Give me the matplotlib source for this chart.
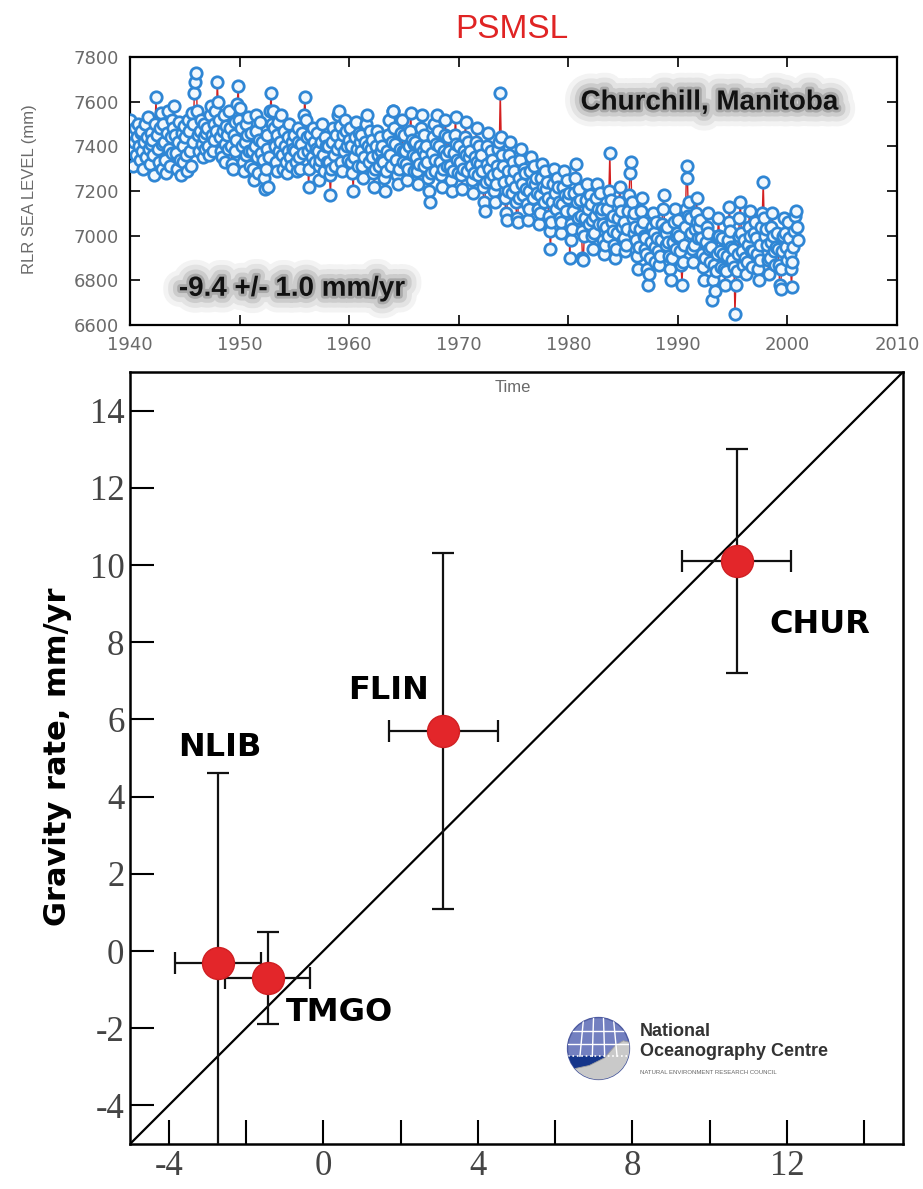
import numpy as np
import matplotlib
matplotlib.use('Agg')
from matplotlib import pyplot as plt
from matplotlib import patheffects as pe
from matplotlib.ticker import MultipleLocator
from matplotlib.patches import Circle, Rectangle, Polygon

plt.rcParams['axes.unicode_minus'] = False

# %% Churchill monthly RLR sea level (mm), one row per year
year_start = 1940
sl_1940s = [7520, 7450, 7380, 7310, 7420, 7480, 7360, 7440, 7500, 7400, 7340, 7460,
            7470, 7380, 7300, 7420, 7500, 7350, 7440, 7530, 7390, 7320, 7460, 7410,
            7430, 7360, 7270, 7500, 7620, 7450, 7390, 7330, 7480, 7550, 7410, 7300,
            7500, 7420, 7340, 7280, 7460, 7560, 7390, 7310, 7440, 7520, 7370, 7480,
            7580, 7450, 7370, 7300, 7420, 7510, 7340, 7270, 7460, 7400, 7330, 7490,
            7440, 7360, 7290, 7520, 7470, 7380, 7310, 7550, 7420, 7500, 7640, 7690,
            7730, 7560, 7450, 7380, 7470, 7520, 7410, 7350, 7440, 7500, 7390, 7460,
            7480, 7400, 7360, 7540, 7580, 7450, 7380, 7500, 7430, 7560, 7470, 7690,
            7600, 7520, 7440, 7380, 7350, 7470, 7540, 7410, 7330, 7490, 7450, 7390,
            7560, 7480, 7400, 7320, 7300, 7450, 7510, 7380, 7430, 7590, 7670, 7520]
sl_1950s = [7570, 7480, 7400, 7330, 7290, 7420, 7500, 7360, 7450, 7530, 7380, 7310,
            7460, 7380, 7300, 7250, 7400, 7540, 7470, 7350, 7280, 7430, 7510, 7370,
            7420, 7340, 7260, 7210, 7300, 7390, 7450, 7220, 7350, 7560, 7640, 7500,
            7560, 7480, 7400, 7330, 7290, 7450, 7510, 7380, 7420, 7540, 7360, 7300,
            7470, 7400, 7330, 7280, 7380, 7440, 7500, 7350, 7310, 7420, 7390, 7450,
            7380, 7330, 7290, 7420, 7480, 7350, 7300, 7410, 7460, 7370, 7540, 7620,
            7520, 7440, 7380, 7220, 7300, 7450, 7400, 7350, 7480, 7420, 7330, 7390,
            7460, 7380, 7310, 7250, 7340, 7420, 7500, 7360, 7290, 7440, 7400, 7330,
            7400, 7330, 7270, 7180, 7300, 7420, 7480, 7360, 7310, 7450, 7390, 7540,
            7560, 7490, 7410, 7330, 7290, 7450, 7380, 7520, 7470, 7400, 7340, 7430]
sl_1960s = [7480, 7400, 7330, 7280, 7200, 7350, 7440, 7510, 7390, 7310, 7460, 7420,
            7450, 7380, 7310, 7260, 7350, 7420, 7500, 7540, 7400, 7330, 7470, 7390,
            7430, 7350, 7280, 7220, 7300, 7400, 7470, 7360, 7310, 7440, 7380, 7340,
            7400, 7330, 7260, 7200, 7290, 7380, 7450, 7520, 7360, 7310, 7420, 7560,
            7560, 7480, 7410, 7340, 7270, 7230, 7300, 7390, 7460, 7520, 7380, 7330,
            7450, 7380, 7320, 7250, 7300, 7400, 7470, 7550, 7430, 7360, 7290, 7410,
            7420, 7350, 7290, 7230, 7320, 7400, 7480, 7540, 7380, 7310, 7450, 7360,
            7400, 7330, 7260, 7200, 7150, 7280, 7370, 7440, 7500, 7340, 7290, 7410,
            7540, 7470, 7400, 7330, 7270, 7220, 7300, 7380, 7450, 7520, 7360, 7310,
            7440, 7380, 7310, 7250, 7200, 7290, 7370, 7450, 7530, 7410, 7340, 7280]
sl_1970s = [7400, 7330, 7270, 7210, 7300, 7380, 7440, 7510, 7360, 7290, 7420, 7350,
            7380, 7310, 7250, 7190, 7280, 7350, 7420, 7480, 7330, 7270, 7400, 7320,
            7360, 7290, 7220, 7150, 7110, 7240, 7320, 7400, 7460, 7300, 7250, 7380,
            7340, 7270, 7200, 7150, 7230, 7310, 7390, 7280, 7420, 7640, 7440, 7360,
            7310, 7240, 7170, 7100, 7070, 7200, 7290, 7360, 7420, 7250, 7190, 7330,
            7290, 7220, 7150, 7080, 7060, 7170, 7260, 7340, 7390, 7230, 7180, 7300,
            7280, 7210, 7140, 7070, 7120, 7200, 7290, 7350, 7240, 7170, 7310, 7230,
            7260, 7190, 7120, 7050, 7100, 7180, 7260, 7320, 7220, 7150, 7290, 7210,
            7240, 7170, 7090, 7020, 6940, 7060, 7150, 7230, 7300, 7190, 7120, 7260,
            7220, 7150, 7080, 7010, 7060, 7140, 7220, 7290, 7180, 7110, 7250, 7170]
sl_1980s = [7190, 6900, 7050, 6980, 7030, 7110, 7190, 7260, 7320, 7150, 7080, 7210,
            7160, 7090, 7020, 6900, 6890, 7000, 7080, 7160, 7230, 7120, 7050, 7180,
            7140, 7070, 7000, 6940, 7010, 7090, 7170, 7230, 7120, 7050, 7190, 7100,
            7120, 7050, 6980, 6920, 6960, 7040, 7120, 7000, 7200, 7370, 7160, 7060,
            7090, 7020, 6960, 6900, 6940, 7010, 7080, 7150, 7220, 7110, 7040, 6980,
            7060, 6990, 6930, 6960, 7030, 7110, 7180, 7280, 7330, 7150, 7080, 7010,
            7100, 7040, 6980, 6910, 6850, 6950, 7030, 7110, 7170, 7060, 7000, 6940,
            6990, 6920, 6850, 6780, 6830, 6900, 6970, 7040, 7100, 7010, 6950, 6880,
            7060, 6990, 6930, 6870, 6910, 6980, 7050, 7120, 7180, 7030, 6960, 7010,
            7040, 6970, 6910, 6850, 6800, 6900, 6970, 7060, 7120, 7000, 6940, 7010]
sl_1990s = [7070, 7000, 6930, 6870, 6780, 6880, 6960, 7040, 7120, 7310, 7260, 7090,
            7150, 7080, 7010, 6940, 6880, 6960, 7030, 7100, 7170, 7060, 6990, 7040,
            7070, 6990, 6920, 6860, 6800, 6900, 6970, 7040, 7100, 7010, 6940, 6880,
            6950, 6710, 6800, 6870, 6750, 6840, 6920, 7000, 7080, 7000, 6930, 6860,
            6990, 6920, 6850, 6780, 6840, 6910, 6980, 7060, 7130, 7020, 6950, 6890,
            6940, 6860, 6650, 6780, 6840, 6920, 7000, 7080, 7150, 7010, 6930, 6870,
            6980, 6900, 6830, 6880, 6960, 7040, 7110, 7000, 6930, 6860, 6930, 7010,
            7060, 6990, 6920, 6850, 6800, 6890, 6960, 7040, 7100, 7240, 7080, 7000,
            7030, 6960, 6890, 6830, 6900, 6970, 7040, 7100, 7000, 6930, 6870, 6950,
            7010, 6940, 6870, 6780, 6760, 6850, 6930, 7000, 7080, 7010, 6950, 6890]
sl_2000s = [7060, 6990, 6920, 6850, 6770, 6880, 6950, 7020, 7090, 7110, 7040, 6980]

# %% gravity rate vs uplift rate (mm/yr)
stations = ['NLIB', 'TMGO', 'FLIN', 'CHUR']
uplift = [-2.72, -1.43, 3.1, 10.7]
uplift_err = [1.12, 1.1, 1.41, 1.41]
gravity = [-0.3, -0.7, 5.7, 10.1]
gravity_err = [4.9, 1.2, 4.6, 2.9]

# %%
W, H = 923, 1189
fig = plt.figure(figsize=(W / 100, H / 100), dpi=100)

def box(l, t, r, b):
    return [l / W, 1 - b / H, (r - l) / W, (b - t) / H]

gray = '#6a6a6a'

# top panel: PSMSL tide gauge
ax1 = fig.add_axes(box(130, 57, 897, 325))
sea_level = np.array(sl_1940s + sl_1950s + sl_1960s + sl_1970s + sl_1980s + sl_1990s + sl_2000s)
t = year_start + (np.arange(len(sea_level)) + 0.5) / 12
ax1.plot(t, sea_level, color='#d42020', lw=1.0, zorder=2)
ax1.plot(t, sea_level, 'o', ms=8.2, mfc='#f2f8fd', mec='#2f86d4', mew=2.0, zorder=3)
ax1.set_xlim(1940, 2010)
ax1.set_ylim(6600, 7800)
ax1.set_xticks(np.arange(1940, 2011, 10))
ax1.set_yticks(np.arange(6600, 7801, 200))
ax1.tick_params(direction='in', top=True, right=True, length=7, width=1.2,
                labelsize=13, labelcolor=gray, pad=8)
for s in ax1.spines.values():
    s.set_linewidth(1.6)

glow = [pe.Stroke(linewidth=24, foreground='#f3f3f3'),
        pe.Stroke(linewidth=17, foreground='#e3e3e3'),
        pe.Stroke(linewidth=10, foreground='#cccccc'),
        pe.Stroke(linewidth=4, foreground='#a8a8a8'),
        pe.Normal()]
ax1.text(0.755, 0.83, 'Churchill, Manitoba', transform=ax1.transAxes, ha='center', va='center',
         fontsize=20, fontweight='bold', family='Liberation Sans', color='#111111', path_effects=glow)
ax1.text(0.211, 0.135, '-9.4 +/- 1.0 mm/yr', transform=ax1.transAxes, ha='center', va='center',
         fontsize=20, fontweight='bold', family='Liberation Sans', color='#111111', path_effects=glow)

fig.text(512 / W, 1 - 30 / H, 'PSMSL', ha='center', va='center', fontsize=24,
         color='#e02424', family='Liberation Sans')
fig.text(30 / W, 1 - 189 / H, 'RLR SEA LEVEL (mm)', rotation=90, ha='center', va='center',
         fontsize=12, color=gray, family='Liberation Sans')

# bottom panel: gravity vs uplift
ax2 = fig.add_axes(box(130, 372, 903, 1144))
ax2.plot([-5, 15], [-5, 15], color='black', lw=1.6, zorder=2)
ax2.errorbar(uplift, gravity, xerr=uplift_err, yerr=gravity_err, fmt='o', ms=23,
             mfc='#e3262a', mec='#d01f22', ecolor='#111111', elinewidth=1.6,
             capsize=8, capthick=1.6, zorder=3)
label_pos = {'NLIB': (-2.67, 5.26), 'TMGO': (0.43, -1.6), 'FLIN': (1.68, 6.75), 'CHUR': (12.85, 8.45)}
for name in stations:
    ax2.text(*label_pos[name], name, ha='center', va='center', fontsize=23,
             fontweight='bold', family='DejaVu Sans', color='black', zorder=4)
ax2.set_xlim(-5, 15)
ax2.set_ylim(-5, 15)
ax2.xaxis.set_minor_locator(MultipleLocator(2))
ax2.set_yticks(np.arange(-4, 15, 2))
ax2.set_xticks(np.arange(-4, 13, 4))
ax2.tick_params(which='both', direction='in', length=17, width=1.5, labelsize=25,
                labelcolor='#444444', pad=4)
for lab in ax2.get_xticklabels() + ax2.get_yticklabels():
    lab.set_family('Liberation Serif')
for s in ax2.spines.values():
    s.set_linewidth(1.8)

fig.text(58 / W, 1 - 757 / H, 'Gravity rate, mm/yr', rotation=90, ha='center', va='center',
         fontsize=22, fontweight='bold', family='DejaVu Sans')
fig.text(513 / W, 1 - 388 / H, 'Time', ha='center', va='center', fontsize=12,
         color=gray, family='Liberation Sans')

# NOC logo
lg = fig.add_axes(box(566, 1016, 631, 1081))
lg.set_xlim(-1.05, 1.05)
lg.set_ylim(-1.05, 1.05)
lg.set_aspect('equal')
lg.axis('off')
disc = Circle((0, 0), 1, fc='#7380c0', ec='#4d5aa0', lw=1)
lg.add_patch(disc)
sea = Rectangle((-1, -1), 2, 0.75, fc='#15358a', ec='none')
lg.add_patch(sea)
sea.set_clip_path(disc)
for yy in [0.55, 0.15]:
    ln, = lg.plot([-1, 1], [yy, yy], color='white', lw=1)
    ln.set_clip_path(disc)
for xx in [-0.6, -0.2, 0.2, 0.6]:
    ln, = lg.plot([xx, xx * 0.8], [-0.25, 1], color='white', lw=1)
    ln.set_clip_path(disc)
ln, = lg.plot([-1, 1], [-0.25, -0.25], color='white', lw=1.2, ls=':')
ln.set_clip_path(disc)
wave = Polygon([(-1, -0.7), (-0.3, -0.55), (0.2, -0.3), (0.55, 0.1), (0.8, 0.25),
                (1, 0.2), (1, -1), (-1, -1)], fc='#c9c9c9', ec='#a0a0a0', lw=0.6)
lg.add_patch(wave)
wave.set_clip_path(disc)

fig.text(640 / W, 1 - 1031 / H, 'National', ha='left', va='center', fontsize=13,
         fontweight='bold', color='#333333', family='Liberation Sans')
fig.text(640 / W, 1 - 1052 / H, 'Oceanography Centre', ha='left', va='center', fontsize=13,
         fontweight='bold', color='#333333', family='Liberation Sans')
fig.text(640 / W, 1 - 1072 / H, 'NATURAL ENVIRONMENT RESEARCH COUNCIL', ha='left', va='center',
         fontsize=4.3, color='#666666', family='Liberation Sans')

fig.savefig('out.png', dpi=100)
